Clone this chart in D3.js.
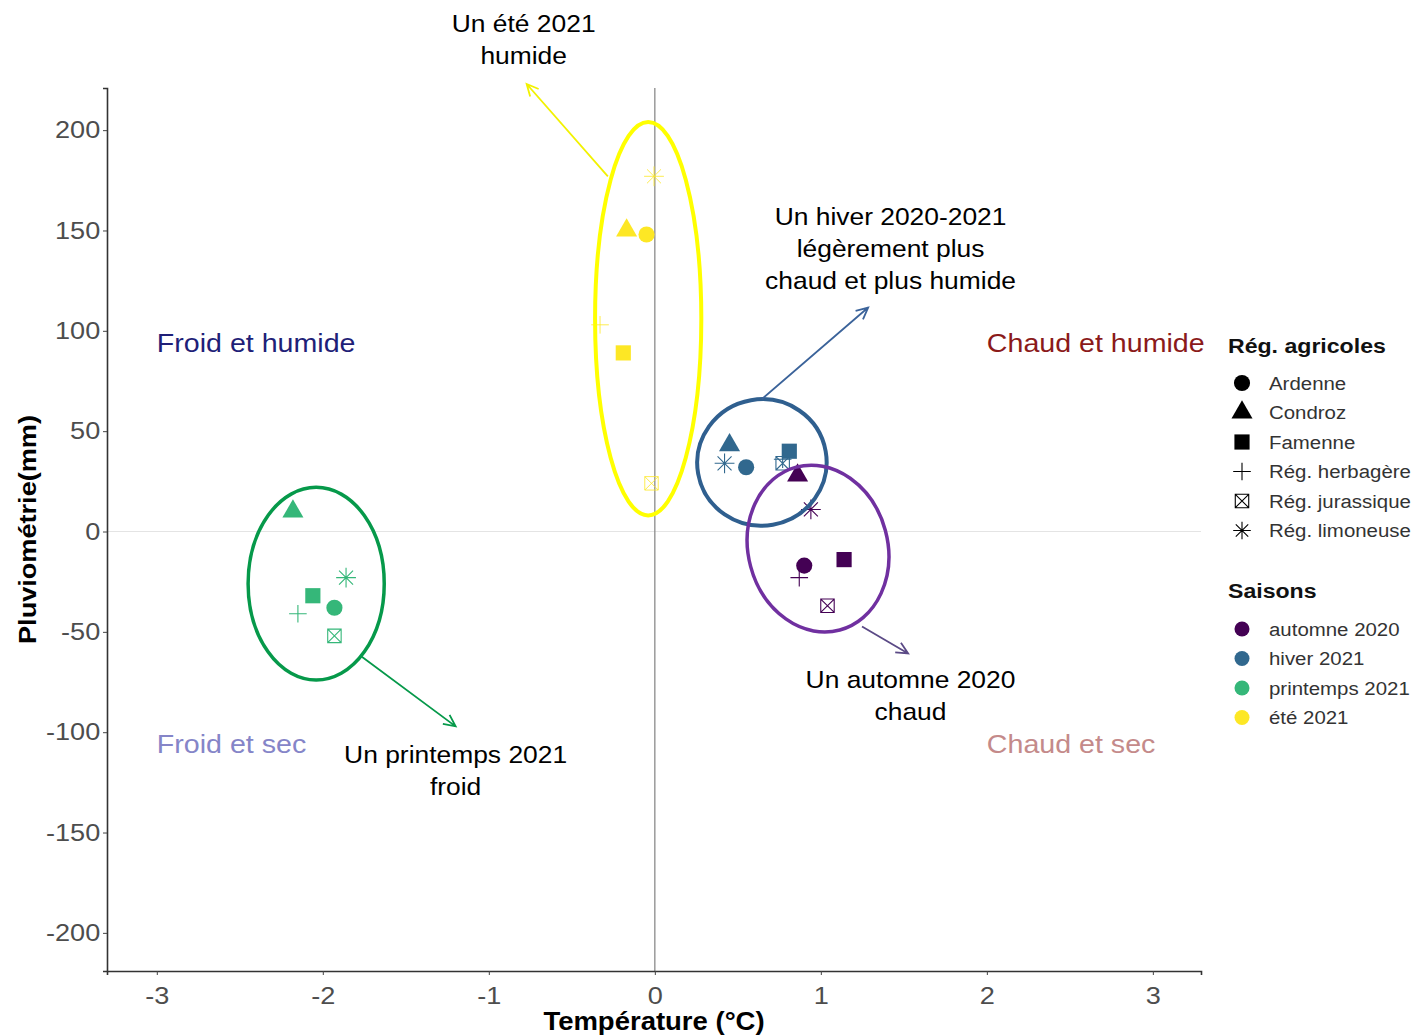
<!DOCTYPE html>
<html>
<head>
<meta charset="utf-8">
<script src="https://cdn.jsdelivr.net/npm/d3@7"></script>
<style>
  body { margin: 0; background: #fff; }
  svg { font-family: 'Liberation Sans', Arial, sans-serif; }
</style>
</head>
<body>
<svg id="chart" width="1414" height="1036"></svg>
<script>
// regions (shapes) and seasons (colours)
const regions = ['Ardenne', 'Condroz', 'Famenne', 'Rég. herbagère', 'Rég. jurassique', 'Rég. limoneuse']
const seasons = ['automne 2020', 'hiver 2021', 'printemps 2021', 'été 2021']
const seasonColors = ['#440154', '#31688E', '#35B779', '#FDE725']

// temperature anomaly (°C) per season, in region order
const tempAutomne = [0.90, 0.86, 1.14, 0.87, 1.04, 0.94]
const tempHiver = [0.55, 0.45, 0.81, 0.77, 0.77, 0.42]
const tempPrintemps = [-1.93, -2.18, -2.06, -2.15, -1.93, -1.86]
const tempEte = [-0.05, -0.17, -0.19, -0.33, -0.02, -0.005]

// rainfall anomaly (mm) per season, in region order
const pluieAutomne = [-17, 28, -14, -23, -37, 11]
const pluieHiver = [32, 43, 40, 36, 34, 34]
const pluiePrintemps = [-38, 10, -32, -41, -52, -23]
const pluieEte = [148, 150, 89, 103, 24, 177]

const xTicks = [-3, -2, -1, 0, 1, 2, 3]
const yTicks = [-200, -150, -100, -50, 0, 50, 100, 150, 200]

// quadrant labels
const quadLabels = [
    { text: 'Froid et humide', x: -3, y: 94, color: '#1f1f78' },
    { text: 'Chaud et humide', x: 2, y: 94, color: '#8b1a1a' },
    { text: 'Froid et sec', x: -3, y: -106, color: '#8585c8' },
    { text: 'Chaud et sec', x: 2, y: -106, color: '#c48a8a' }
]

// highlighted groups: ellipse (data units), arrow and comment
const highlights = [
    { color: '#ffff00', arrow: '#f2f200', cx: -0.04, cy: 106, rx: 0.32, ry: 98, rot: 0, width: 4,
      from: [-0.283, 177], to: [-0.772, 223], lines: ['Un été 2021', 'humide'], tx: -0.79, ty: 253 },
    { color: '#2f5f8f', arrow: '#3b639a', cx: 0.645, cy: 34.4, rx: 0.39, ry: 31.5, rot: -10, width: 4,
      from: [0.645, 66], to: [1.285, 111.6], lines: ['Un hiver 2020-2021', 'légèrement plus', 'chaud et plus humide'], tx: 1.42, ty: 157 },
    { color: '#7030a0', arrow: '#5b4a86', cx: 0.983, cy: -8.5, rx: 0.42, ry: 42, rot: -15, width: 3.5,
      from: [1.248, -47.3], to: [1.526, -60.8], lines: ['Un automne 2020', 'chaud'], tx: 1.54, ty: -74 },
    { color: '#06994a', arrow: '#06994a', cx: -2.04, cy: -26, rx: 0.41, ry: 48, rot: 0, width: 3.5,
      from: [-1.767, -62.3], to: [-1.2, -97.1], lines: ['Un printemps 2021', 'froid'], tx: -1.2, ty: -111 }
]

const temps = [tempAutomne, tempHiver, tempPrintemps, tempEte]
const pluies = [pluieAutomne, pluieHiver, pluiePrintemps, pluieEte]
let points = []
seasons.forEach((s, i) => {
    regions.forEach((r, j) => {
        points.push({ season: i, region: j, t: temps[i][j], p: pluies[i][j] })
    })
})

const svg = d3.select('#chart')
const x = d3.scaleLinear().domain([-3.3, 3.29]).range([107, 1201])
const y = d3.scaleLinear().domain([-219, 221]).range([971, 88])

// text slightly stretched horizontally, like the original picture
const addText = (parent, px, py, size, sx) =>
    parent.append('text')
        .attr('transform', `translate(${px},${py}) scale(${sx},1)`)
        .style('font-size', size + 'px')

// symbol path generators (centered on 0,0)
const shapePath = (k, s) => {
    if (k === 0) return d3.symbol(d3.symbolCircle, s * s * 0.8)()
    if (k === 1) return d3.symbol(d3.symbolTriangle, s * s * 0.75)()
    if (k === 2) return d3.symbol(d3.symbolSquare, s * s * 0.9)()
    let h = s * 0.55
    if (k === 3) return `M${-h},0H${h}M0,${-h}V${h}`
    let b = s * 0.42
    if (k === 4) return `M${-b},${-b}H${b}V${b}H${-b}ZM${-b},${-b}L${b},${b}M${b},${-b}L${-b},${b}`
    let a = s * 0.55, d = a * 0.7071
    return `M${-a},0H${a}M0,${-a}V${a}M${-d},${-d}L${d},${d}M${d},${-d}L${-d},${d}`
}
const drawSymbol = (g, k, color, s, thin) => {
    let filled = k < 3
    g.append('path')
        .attr('d', shapePath(k, s))
        .style('fill', filled ? color : 'none')
        .style('stroke', filled ? 'none' : color)
        .style('stroke-width', thin || 1.1)
}

// reference lines
svg.append('line')
    .attr('x1', x.range()[0]).attr('x2', x.range()[1])
    .attr('y1', y(0)).attr('y2', y(0))
    .style('stroke', '#e4e4e4').style('stroke-width', 1.2)
svg.append('line')
    .attr('x1', x(0)).attr('x2', x(0))
    .attr('y1', y.range()[1]).attr('y2', y.range()[0])
    .style('stroke', '#8a8a8a').style('stroke-width', 1.3)

// axes
const xAxis = svg.append('g')
    .attr('transform', `translate(0,${y.range()[0]})`)
    .call(d3.axisBottom(x).tickValues(xTicks).tickSize(4).tickPadding(6).tickFormat(d => String(d)))
const yAxis = svg.append('g')
    .attr('transform', `translate(${x.range()[0]},0)`)
    .call(d3.axisLeft(y).tickValues(yTicks).tickSize(4).tickPadding(2).tickFormat(d => String(d)))
;[xAxis, yAxis].forEach(a => {
    a.select('.domain').style('stroke', '#333').style('stroke-width', 1.6)
    a.selectAll('.tick line').style('stroke', '#444')
    a.selectAll('.tick text').style('fill', '#4d4d4d').style('font-size', '24px')
        .style('font-family', "'Liberation Sans', Arial, sans-serif")
        .attr('transform', 'scale(1.13,1)')
})
xAxis.selectAll('.tick text').attr('dy', '0.95em')

addText(svg, (x.range()[0] + x.range()[1]) / 2, 1030, 25, 1.1)
    .attr('text-anchor', 'middle')
    .style('font-weight', 'bold')
    .text('Température (°C)')
svg.append('text')
    .attr('transform', `translate(36,${(y.range()[0] + y.range()[1]) / 2}) rotate(-90) scale(1.13,1)`)
    .attr('text-anchor', 'middle')
    .style('font-size', '24px').style('font-weight', 'bold')
    .text('Pluviométrie(mm)')

// quadrant labels
quadLabels.forEach(d => {
    addText(svg, x(d.x), y(d.y), 26, 1.1)
        .attr('dy', '0.35em')
        .style('fill', d.color)
        .text(d.text)
})

// points
svg.selectAll('g.pt')
    .data(points)
    .enter().append('g')
    .attr('class', 'pt')
    .attr('transform', d => `translate(${x(d.t)},${y(d.p)})`)
    .each(function (d) {
        drawSymbol(d3.select(this), d.region, seasonColors[d.season], d.region === 5 ? 18 : 16, d.season === 3 ? 0.8 : 1.1)
    })

// highlight ellipses, arrows, comments
const kx = x(1) - x(0), ky = y(0) - y(1)
highlights.forEach(h => {
    svg.append('ellipse')
        .attr('cx', x(h.cx)).attr('cy', y(h.cy))
        .attr('rx', h.rx * kx).attr('ry', h.ry * ky)
        .attr('transform', `rotate(${h.rot},${x(h.cx)},${y(h.cy)})`)
        .style('fill', 'none').style('stroke', h.color).style('stroke-width', h.width)

    let x1 = x(h.from[0]), y1 = y(h.from[1]), x2 = x(h.to[0]), y2 = y(h.to[1])
    let ang = Math.atan2(y2 - y1, x2 - x1), len = 13, spread = 0.45
    svg.append('path')
        .attr('d', `M${x1},${y1}L${x2},${y2}` +
            `M${x2 - len * Math.cos(ang - spread)},${y2 - len * Math.sin(ang - spread)}L${x2},${y2}` +
            `L${x2 - len * Math.cos(ang + spread)},${y2 - len * Math.sin(ang + spread)}`)
        .style('fill', 'none').style('stroke', h.arrow).style('stroke-width', 1.8)

    let t = addText(svg, x(h.tx), y(h.ty), 24, 1.1)
        .attr('text-anchor', 'middle')
        .style('fill', '#000')
    h.lines.forEach((l, i) => {
        t.append('tspan').attr('x', 0).attr('dy', i === 0 ? '0.35em' : '1.33em').text(l)
    })
})

// legend
const leg = svg.append('g').attr('transform', 'translate(1228,0)')
addText(leg, 0, 353, 21, 1.1)
    .style('font-weight', 'bold').style('fill', '#111')
    .text('Rég. agricoles')
regions.forEach((r, i) => {
    let cy = 383 + i * 29.5
    drawSymbol(leg.append('g').attr('transform', `translate(14,${cy})`), i, '#000', 16)
    addText(leg, 41, cy, 19, 1.075).attr('dy', '0.35em')
        .style('fill', '#333').text(r)
})
addText(leg, 0, 598, 21, 1.1)
    .style('font-weight', 'bold').style('fill', '#111')
    .text('Saisons')
seasons.forEach((s, i) => {
    let cy = 629 + i * 29.5
    leg.append('circle').attr('cx', 14).attr('cy', cy).attr('r', 7.5)
        .style('fill', seasonColors[i])
    addText(leg, 41, cy, 19, 1.075).attr('dy', '0.35em')
        .style('fill', '#333').text(s)
})
</script>
</body>
</html>
